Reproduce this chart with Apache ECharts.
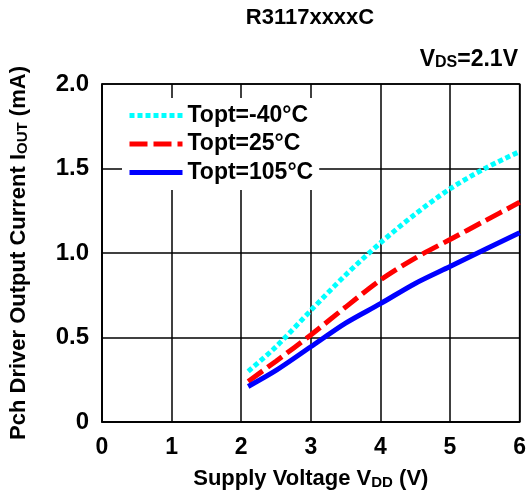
<!DOCTYPE html>
<html><head><meta charset="utf-8">
<script src="https://cdn.jsdelivr.net/npm/echarts@6/dist/echarts.min.js"></script>
<style>html,body{margin:0;padding:0;background:#fff}#c{width:529px;height:497px}</style>
</head><body><div id="c"></div>
<script>
const voltage = [2.1, 2.5, 3.0, 3.5, 4.0, 4.5, 5.0, 5.5, 6.0];
const iMinus40 = [0.30, 0.445, 0.66, 0.87, 1.06, 1.23, 1.38, 1.50, 1.60];
const i25 = [0.24, 0.36, 0.515, 0.68, 0.84, 0.97, 1.08, 1.19, 1.30];
const i105 = [0.21, 0.305, 0.445, 0.585, 0.70, 0.82, 0.92, 1.02, 1.12];
const seriesNames = ['Topt=-40°C', 'Topt=25°C', 'Topt=105°C'];
const xTicks = ['0','1','2','3','4','5','6'];
const yTicks = ['0','0.5','1.0','1.5','2.0'];

const FONT = 'Liberation Sans, Arial, sans-serif';
const pair = (xs, ys) => xs.map((x, i) => [x, ys[i]]);
const richText = (size, sub) => ({
  b: {fontFamily: FONT, fontWeight: 'bold', fontSize: size, color: '#000'},
  s: {fontFamily: FONT, fontWeight: 'bold', fontSize: sub, color: '#000', verticalAlign: 'bottom'}
});

const chart = echarts.init(document.getElementById('c'), null, {renderer: 'canvas'});
chart.setOption({
  animation: false,
  backgroundColor: '#fff',
  title: [
    {text: 'R3117xxxxC', left: 310, textAlign: 'center', top: 7, padding: 0,
     textStyle: {fontFamily: FONT, fontWeight: 'bold', fontSize: 22, color: '#000'}},
    {text: '{b|V}{s|DS}{b|=2.1V}', right: 11, top: 48, padding: 0,
     textStyle: {rich: richText(23, 16)}}
  ],
  legend: {
    data: seriesNames,
    orient: 'vertical', left: 122, top: 98,
    backgroundColor: '#fff', padding: [6, 6, 6, 5],
    itemWidth: 53, itemHeight: 14, itemGap: 5.5,
    itemStyle: {opacity: 0},
    lineStyle: {width: 5},
    textStyle: {fontFamily: FONT, fontWeight: 'bold', fontSize: 23, color: '#000'}
  },
  grid: {left: 100, right: 9, top: 84, bottom: 75, show: true, borderColor: '#000', borderWidth: 1.5},
  xAxis: {
    type: 'value', min: 0, max: 6, interval: 1,
    name: '{b|Supply Voltage V}{s|DD}{b| (V)}', nameLocation: 'middle', nameGap: 46,
    nameTextStyle: {rich: richText(22, 15)},
    axisLine: {show: true, lineStyle: {color: '#000', width: 1.5}},
    axisTick: {show: false},
    splitLine: {show: true, lineStyle: {color: '#000', width: 1.5}},
    axisLabel: {margin: 14, fontFamily: FONT, fontWeight: 'bold', fontSize: 23, color: '#000',
      formatter: v => xTicks[Math.round(v)]}
  },
  yAxis: {
    type: 'value', min: 0, max: 2, interval: 0.5,
    name: '{b|Pch Driver Output Current I}{s|OUT}{b| (mA)}', nameLocation: 'middle', nameGap: 72, nameRotate: 90,
    nameTextStyle: {rich: richText(22, 15)},
    axisLine: {show: true, lineStyle: {color: '#000', width: 1.5}},
    axisTick: {show: false},
    splitLine: {show: true, lineStyle: {color: '#000', width: 1.5}},
    axisLabel: {margin: 13, fontFamily: FONT, fontWeight: 'bold', fontSize: 24, color: '#000',
      formatter: v => yTicks[Math.round(v * 2)]}
  },
  series: [
    {name: seriesNames[0], type: 'line', smooth: 0.3, symbol: 'none', data: pair(voltage, iMinus40),
     color: '#00ffff', lineStyle: {color: '#00ffff', width: 5, type: [5, 3]}, z: 3},
    {name: seriesNames[1], type: 'line', smooth: 0.3, symbol: 'none', data: pair(voltage, i25),
     color: '#ff0000', lineStyle: {color: '#ff0000', width: 5, type: [18, 6]}, z: 4},
    {name: seriesNames[2], type: 'line', smooth: 0.3, symbol: 'none', data: pair(voltage, i105),
     color: '#0000ff', lineStyle: {color: '#0000ff', width: 5}, z: 5}
  ]
});
</script></body></html>
